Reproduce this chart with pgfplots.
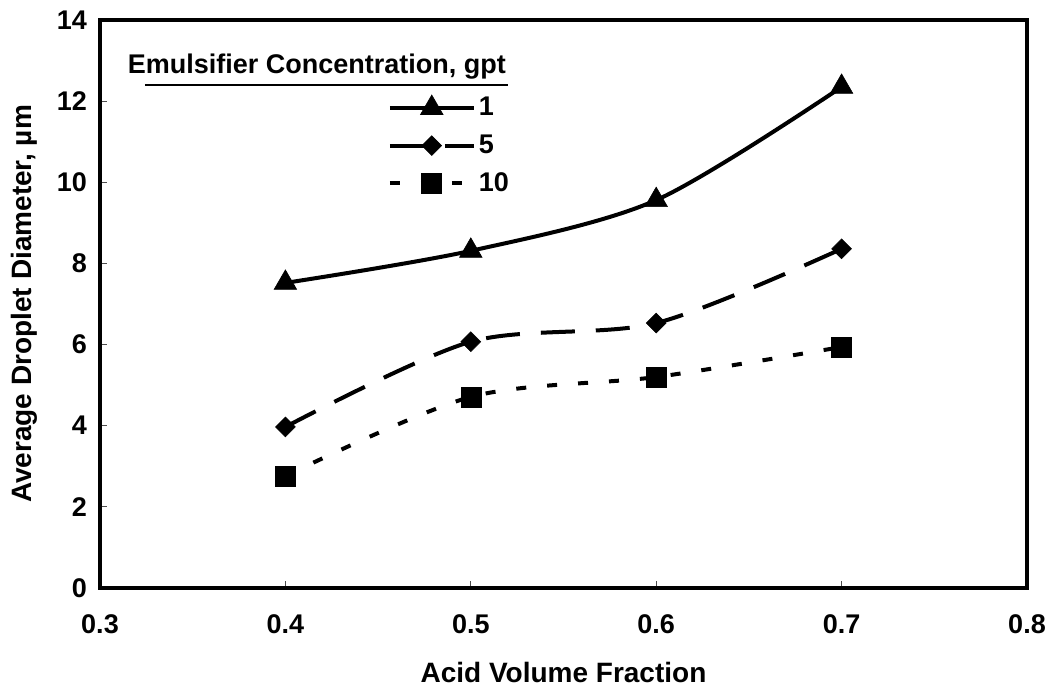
\documentclass[border=0pt]{standalone}
\usepackage{pgfplots}
\pgfplotsset{compat=1.18}
\usepackage{fontspec}
\setmainfont{Liberation Sans}
\begin{document}
\begin{tikzpicture}
\useasboundingbox (0,0) rectangle (529pt,344.5pt);
\begin{axis}[
  at={(50pt,50.5pt)}, anchor=south west,
  scale only axis, width=463.5pt, height=284pt,
  xmin=0.3, xmax=0.8, ymin=0, ymax=14,
  xtick={0.3,0.4,...,0.8}, ytick={0,2,...,14},
  xticklabels={0.3,0.4,0.5,0.6,0.7,0.8},
  yticklabels={0,2,4,6,8,10,12,14},
  xtick pos=left, ytick pos=left,
  tick align=inside,
  major tick length=3.5pt,
  tick style={black!70, line width=0.6pt},
  axis line style={line width=2pt},
  font=\fontsize{13.5}{15}\selectfont\bfseries,
  /pgf/number format/assume math mode=true,
  xticklabel style={yshift=-10pt},
  yticklabel style={xshift=-3pt},
  xlabel={Acid Volume Fraction},
  ylabel={Average Droplet Diameter, µm},
  label style={font=\fontsize{14}{16}\selectfont\bfseries},
  xlabel style={yshift=-7pt},
  ylabel style={yshift=3pt},
  clip=false,
  legend image code/.code={\draw[mark repeat=2,mark phase=2,#1] plot coordinates {(0pt,0pt) (21pt,0pt) (42pt,0pt)};},
  legend style={at={(rel axis cs:0.31,0.87)}, anchor=north west, draw=none, fill=none,
    row sep=5pt, inner sep=0pt, nodes={inner sep=1.5pt}, font=\fontsize{13.5}{15}\selectfont\bfseries},
  legend cell align=left,
]
\addplot[black, line width=2pt, smooth, mark=triangle*, mark size=6.5pt, mark options={solid, line width=0.3pt}]
  coordinates {(0.4,7.52) (0.5,8.31) (0.6,9.56) (0.7,12.35)};
\addlegendentry{1}
\addplot[black, line width=2pt, smooth, dash pattern=on 17pt off 10.5pt, mark=square*, mark size=3.5pt, mark options={solid, rotate=45, line width=0.3pt}]
  coordinates {(0.4,3.97) (0.5,6.07) (0.6,6.53) (0.7,8.36)};
\addlegendentry{5}
\addplot[black, line width=2pt, smooth, dash pattern=on 5pt off 10.5pt, mark=square*, mark size=5pt, mark options={solid, line width=0.3pt}]
  coordinates {(0.4,2.76) (0.5,4.71) (0.6,5.20) (0.7,5.94)};
\addlegendentry{10}
\node[font=\fontsize{13.5}{15}\selectfont\bfseries, anchor=center] at (rel axis cs:0.234,0.918) {Emulsifier Concentration, gpt};
\draw[line width=0.8pt] (rel axis cs:0.0485,0.8856) -- (rel axis cs:0.44,0.8856);
\end{axis}
\end{tikzpicture}
\end{document}
